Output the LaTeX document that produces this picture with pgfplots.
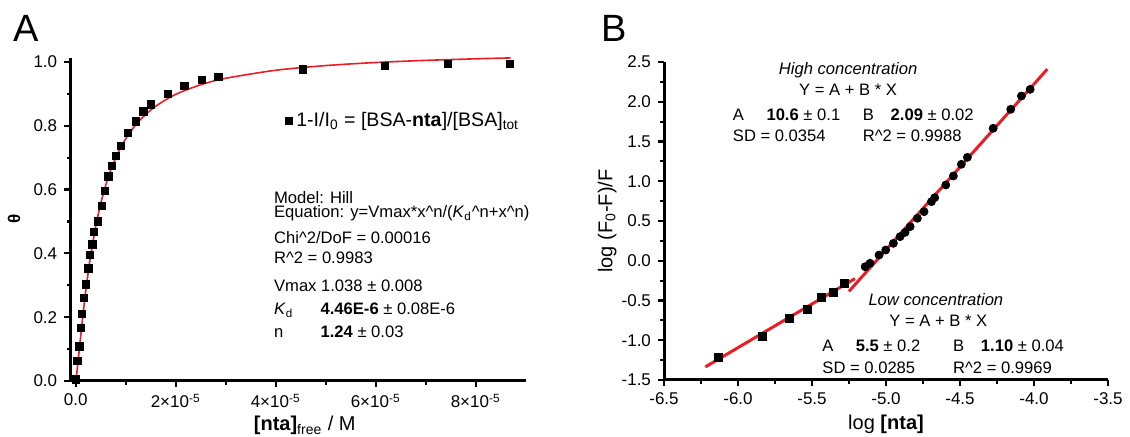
\documentclass[border=0pt]{standalone}
\usepackage{fontspec}
\setmainfont{Liberation Sans}
\usepackage{pgfplots}
\pgfplotsset{compat=1.18}
\definecolor{fitred}{RGB}{235,28,36}

\newcommand{\txt}{\fontsize{8.3}{10}\selectfont}
\pgfplotsset{
  panel/.style={
    scale only axis,
    clip=false,
    axis lines=left,
    axis line style={-, line width=1.5pt},
    tick align=outside,
    major tick length=3pt,
    minor tick length=1.8pt,
    tick style={black, line width=1.1pt},
    minor tick num=1,
    scaled ticks=false,
    tick label style={font=\fontsize{8.5}{10}\selectfont},
    label style={font=\fontsize{9.5}{11}\selectfont},
  },
}
\tikzset{lbl/.style={anchor=base west, inner sep=0pt, font=\txt}}

\begin{document}
\begin{tikzpicture}
\path[use as bounding box] (0,0) rectangle (565pt,218.5pt);
\node[anchor=base west, inner sep=0pt, font=\fontsize{19}{22}\selectfont] at (6.5pt,197.5pt) {A};
\node[anchor=base west, inner sep=0pt, font=\fontsize{19}{22}\selectfont] at (300.5pt,197.5pt) {B};

% panel A: binding isotherm with Hill fit
\begin{axis}[panel,
  at={(35.1pt,28pt)}, anchor=south west,
  width=227.75pt, height=161.6pt,
  xmin=-0.11e-5, xmax=9e-5, ymin=0, ymax=1.013,
  xtick={0,2e-5,4e-5,6e-5,8e-5},
  xticklabels={0.0, 2×10\textsuperscript{-5}, 4×10\textsuperscript{-5}, 6×10\textsuperscript{-5}, 8×10\textsuperscript{-5}},
  ytick={0,0.2,0.4,0.6,0.8,1.0},
  yticklabels={0.0,0.2,0.4,0.6,0.8,1.0},
  xlabel={\textbf{[nta]}\textsubscript{free} / M},
  ylabel={\fontsize{8.5}{10}\selectfont\textbf{θ}},
  every axis x label/.style={at={(axis description cs:0.515,0)}, anchor=base, yshift=-25pt},
  every axis y label/.style={at={(axis description cs:-0.123,0.5)}, rotate=90, anchor=center},
  legend style={draw=none, fill=none, inner sep=0pt,
    at={(axis description cs:0.995,0.8045)}, anchor=east,
    font=\fontsize{9.8}{11}\selectfont},
  legend image code/.code={\draw[#1] plot coordinates {(0pt,0pt)};},
]
\addplot[only marks, mark=square*, mark size=1.85pt, black] coordinates {
  (0,0.005) (0.033e-5,0.063) (0.073e-5,0.108) (0.10e-5,0.167) (0.127e-5,0.210)
  (0.167e-5,0.261) (0.207e-5,0.303) (0.253e-5,0.353) (0.287e-5,0.395)
  (0.333e-5,0.428) (0.367e-5,0.468) (0.44e-5,0.500) (0.52e-5,0.549)
  (0.587e-5,0.596) (0.653e-5,0.641) (0.72e-5,0.674) (0.807e-5,0.705)
  (0.90e-5,0.737) (1.04e-5,0.778) (1.207e-5,0.814) (1.353e-5,0.845)
  (1.50e-5,0.867) (1.84e-5,0.900) (2.173e-5,0.925) (2.52e-5,0.944)
  (2.853e-5,0.954) (4.54e-5,0.977) (6.18e-5,0.987) (7.44e-5,0.993) (8.68e-5,0.993)
};
\addlegendentry{1-I/I\textsubscript{0} = [BSA-\textbf{nta}]/[BSA]\textsubscript{tot}}
\addplot[fitred, line width=0.8pt, smooth, forget plot] coordinates {
  (0,0) (0.02e-5,0.0216) (0.05e-5,0.0645) (0.07e-5,0.095) (0.1e-5,0.1405)
  (0.15e-5,0.2135) (0.2e-5,0.2803) (0.25e-5,0.3403) (0.3e-5,0.3939)
  (0.4e-5,0.4840) (0.5e-5,0.5557) (0.6e-5,0.6134) (0.7e-5,0.6604)
  (0.85e-5,0.7161) (1.0e-5,0.7591) (1.15e-5,0.7930) (1.3e-5,0.8203)
  (1.6e-5,0.8613) (2.0e-5,0.8983) (2.5e-5,0.9285) (3.0e-5,0.9487)
  (4.0e-5,0.9739) (5.0e-5,0.9886) (6.0e-5,0.9982) (7.0e-5,1.0049)
  (8.0e-5,1.0098) (8.7e-5,1.0126)
};
\node[lbl] at (axis cs:3.96e-5,0.556) {Model: Hill};
\node[lbl] at (axis cs:3.96e-5,0.511) {Equation: y=Vmax*x\textasciicircum n/(\textit{K}\textsubscript{d}\textasciicircum n+x\textasciicircum n)};
\node[lbl] at (axis cs:3.96e-5,0.431) {Chi\textasciicircum 2/DoF = 0.00016};
\node[lbl] at (axis cs:3.96e-5,0.367) {R\textasciicircum 2 = 0.9983};
\node[lbl] at (axis cs:3.96e-5,0.279) {Vmax 1.038 ± 0.008};
\node[lbl] at (axis cs:3.96e-5,0.207) {\textit{K}\textsubscript{d}};
\node[lbl] at (axis cs:4.89e-5,0.207) {\textbf{4.46E-6} ± 0.08E-6};
\node[lbl] at (axis cs:3.96e-5,0.135) {n};
\node[lbl] at (axis cs:4.89e-5,0.135) {\textbf{1.24} ± 0.03};
\end{axis}

% panel B: double-log plot with two linear fits
\begin{axis}[panel,
  at={(332pt,28.5pt)}, anchor=south west,
  width=222pt, height=159pt,
  xmin=-6.5, xmax=-3.5, ymin=-1.5, ymax=2.5,
  xtick={-6.5,-6.0,-5.5,-5.0,-4.5,-4.0,-3.5},
  xticklabels={-6.5,-6.0,-5.5,-5.0,-4.5,-4.0,-3.5},
  ytick={-1.5,-1.0,-0.5,0.0,0.5,1.0,1.5,2.0,2.5},
  yticklabels={-1.5,-1.0,-0.5,0.0,0.5,1.0,1.5,2.0,2.5},
  xlabel={log \textbf{[nta]}},
  ylabel={log (F\textsubscript{0}-F)/F},
  every axis x label/.style={at={(axis description cs:0.5,0)}, anchor=base, yshift=-25pt},
  every axis y label/.style={at={(axis description cs:-0.128,0.5)}, rotate=90, anchor=center},
]
\addplot[only marks, mark=square*, mark size=2pt, black] coordinates {
  (-6.134,-1.217) (-5.834,-0.954) (-5.654,-0.725) (-5.529,-0.608)
  (-5.434,-0.467) (-5.354,-0.392) (-5.280,-0.287)
};
\addplot[only marks, mark=*, mark size=2pt, black] coordinates {
  (-5.141,-0.075) (-5.108,-0.032) (-5.047,0.072) (-5.002,0.135) (-4.950,0.219)
  (-4.905,0.303) (-4.871,0.357) (-4.837,0.429) (-4.788,0.534) (-4.743,0.617)
  (-4.693,0.743) (-4.671,0.793) (-4.596,0.953) (-4.545,1.066) (-4.491,1.213)
  (-4.450,1.301) (-4.276,1.666) (-4.157,1.905) (-4.085,2.072) (-4.026,2.156)
};
\addplot[fitred, line width=1.5pt] coordinates {(-6.22,-1.335) (-5.21,-0.225)};
\addplot[fitred, line width=1.5pt] coordinates {(-5.25,-0.385) (-3.91,2.41)};

\node[anchor=base, inner sep=0pt, font=\txt\itshape] at (axis cs:-5.256,2.347) {High concentration};
\node[anchor=base, inner sep=0pt, font=\txt] at (axis cs:-5.256,2.077) {Y = A + B * X};
\node[lbl] at (axis cs:-6.037,1.764) {A};
\node[lbl] at (axis cs:-5.81,1.764) {\textbf{10.6} ± 0.1};
\node[lbl] at (axis cs:-5.159,1.764) {B};
\node[lbl] at (axis cs:-4.971,1.764) {\textbf{2.09} ± 0.02};
\node[lbl] at (axis cs:-6.037,1.494) {SD = 0.0354};
\node[lbl] at (axis cs:-5.159,1.494) {R\textasciicircum 2 = 0.9988};

\node[anchor=base, inner sep=0pt, font=\txt\itshape] at (axis cs:-4.663,-0.56) {Low concentration};
\node[anchor=base, inner sep=0pt, font=\txt] at (axis cs:-4.646,-0.831) {Y = A + B * X};
\node[lbl] at (axis cs:-5.432,-1.144) {A};
\node[lbl] at (axis cs:-5.207,-1.144) {\textbf{5.5} ± 0.2};
\node[lbl] at (axis cs:-4.549,-1.144) {B};
\node[lbl] at (axis cs:-4.361,-1.144) {\textbf{1.10} ± 0.04};
\node[lbl] at (axis cs:-5.432,-1.415) {SD = 0.0285};
\node[lbl] at (axis cs:-4.549,-1.415) {R\textasciicircum 2 = 0.9969};
\end{axis}
\end{tikzpicture}
\end{document}
